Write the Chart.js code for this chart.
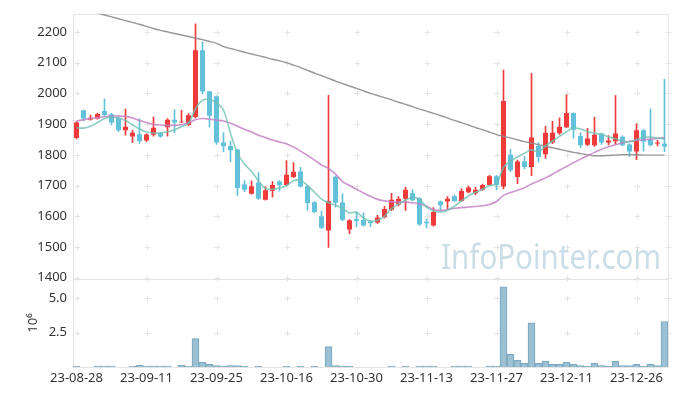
<!DOCTYPE html>
<html>
<head>
<meta charset="utf-8">
<script src="https://cdn.jsdelivr.net/npm/chart.js@4.4.0/dist/chart.umd.min.js"></script>
<style>
  html, body { margin: 0; padding: 0; background: #fff; }
</style>
</head>
<body>
<canvas id="stockChart" width="677" height="396"></canvas>
<script>
'use strict';

// ***** DATA *****
const dates = [
  '23-08-28', '23-08-29', '23-08-30', '23-08-31', '23-09-01', '23-09-04', '23-09-05', '23-09-06', '23-09-07', '23-09-08',
  '23-09-11', '23-09-12', '23-09-13', '23-09-14', '23-09-15', '23-09-18', '23-09-19', '23-09-20', '23-09-21', '23-09-22',
  '23-09-25', '23-09-26', '23-09-27', '23-10-04', '23-10-05', '23-10-06', '23-10-10', '23-10-11', '23-10-12', '23-10-13',
  '23-10-16', '23-10-17', '23-10-18', '23-10-19', '23-10-20', '23-10-23', '23-10-24', '23-10-25', '23-10-26', '23-10-27',
  '23-10-30', '23-10-31', '23-11-01', '23-11-02', '23-11-03', '23-11-06', '23-11-07', '23-11-08', '23-11-09', '23-11-10',
  '23-11-13', '23-11-14', '23-11-15', '23-11-16', '23-11-17', '23-11-20', '23-11-21', '23-11-22', '23-11-23', '23-11-24',
  '23-11-27', '23-11-28', '23-11-29', '23-11-30', '23-12-01', '23-12-04', '23-12-05', '23-12-06', '23-12-07', '23-12-08',
  '23-12-11', '23-12-12', '23-12-13', '23-12-14', '23-12-15', '23-12-18', '23-12-19', '23-12-20', '23-12-21', '23-12-22',
  '23-12-26', '23-12-27', '23-12-28', '24-01-02', '24-01-03'
];

const openPrices = [
  1855, 1945, 1915, 1918, 1943, 1932, 1920, 1880, 1860, 1867,
  1847, 1865, 1870, 1890, 1914, 1906, 1897, 1923, 2140, 2007,
  1991, 1840, 1829, 1817, 1703, 1673, 1710, 1654, 1683, 1713,
  1702, 1728, 1746, 1698, 1646, 1600, 1554, 1729, 1645, 1557,
  1590, 1588, 1584, 1580, 1597, 1621, 1638, 1657, 1675, 1659,
  1582, 1570, 1648, 1648, 1665, 1650, 1678, 1675, 1686, 1702,
  1730, 1697, 1800, 1728, 1778, 1760, 1829, 1802, 1840, 1870,
  1890, 1936, 1861, 1833, 1831, 1869, 1840, 1844, 1859, 1834,
  1811, 1880, 1849, 1837, 1836
];
const highPrices = [
  1908, 1946, 1929, 1936, 1982, 1935, 1922, 1949, 1880, 1917,
  1868, 1923, 1872, 1918, 1947, 1945, 1934, 2226, 2168, 2007,
  1992, 1872, 1845, 1817, 1716, 1715, 1742, 1697, 1713, 1716,
  1781, 1775, 1759, 1700, 1648, 1617, 1994, 1731, 1673, 1589,
  1614, 1611, 1586, 1603, 1632, 1675, 1664, 1695, 1687, 1661,
  1592, 1628, 1650, 1664, 1670, 1689, 1699, 1694, 1705, 1733,
  1733, 2076, 1818, 1783, 1795, 2065, 1840, 1893, 1909, 1920,
  1995, 1937, 1872, 1886, 1922, 1871, 1863, 1993, 1862, 1836,
  1901, 1882, 1949, 1847, 2046
];
const lowPrices = [
  1852, 1910, 1913, 1916, 1925, 1897, 1875, 1864, 1840, 1837,
  1843, 1861, 1857, 1861, 1872, 1905, 1895, 1920, 1998, 1890,
  1834, 1810, 1778, 1668, 1680, 1672, 1655, 1652, 1662, 1682,
  1700, 1726, 1695, 1619, 1612, 1560, 1499, 1630, 1585, 1543,
  1566, 1568, 1566, 1577, 1595, 1618, 1634, 1619, 1650, 1570,
  1562, 1568, 1617, 1625, 1648, 1648, 1676, 1670, 1684, 1700,
  1686, 1689, 1745, 1706, 1754, 1732, 1776, 1788, 1836, 1866,
  1888, 1853, 1823, 1830, 1827, 1834, 1832, 1834, 1829, 1794,
  1784, 1812, 1829, 1829, 1810
];
const closePrices = [
  1905, 1918, 1921, 1933, 1930, 1905, 1880, 1891, 1872, 1845,
  1866, 1888, 1860, 1914, 1905, 1908, 1929, 2140, 2006, 1927,
  1840, 1828, 1815, 1692, 1686, 1698, 1657, 1685, 1702, 1701,
  1735, 1745, 1697, 1643, 1614, 1563, 1649, 1644, 1589, 1587,
  1585, 1570, 1578, 1596, 1624, 1654, 1657, 1686, 1652, 1573,
  1577, 1614, 1636, 1657, 1650, 1682, 1694, 1686, 1702, 1730,
  1702, 1975, 1750, 1778, 1760, 1856, 1793, 1872, 1872, 1891,
  1936, 1882, 1831, 1853, 1865, 1840, 1847, 1869, 1831, 1811,
  1880, 1843, 1831, 1840, 1827
];

// moving averages
const ma5 = [
  1888, 1887, 1893, 1905, 1918, 1923, 1920, 1912, 1898, 1884,
  1874, 1871, 1872, 1875, 1882, 1892, 1903, 1950, 1978, 1980,
  1969, 1945, 1870, 1805, 1770, 1746, 1715, 1690, 1688, 1692,
  1700, 1716, 1717, 1700, 1678, 1656, 1644, 1636, 1626, 1611,
  1613, 1595, 1584, 1587, 1600, 1625, 1640, 1652, 1662, 1655,
  1630, 1618, 1614, 1619, 1633, 1650, 1666, 1678, 1688, 1700,
  1705, 1759, 1780, 1793, 1805, 1816, 1810, 1829, 1845, 1860,
  1875, 1888, 1884, 1876, 1870, 1866, 1859, 1852, 1844, 1842,
  1850, 1857, 1858, 1855, 1852
];
const ma20 = [
  1910, 1914, 1918, 1921, 1924, 1926, 1926, 1925, 1920, 1912,
  1905, 1899, 1897, 1896, 1896, 1898, 1904, 1914, 1918, 1916,
  1913, 1910, 1903, 1893, 1883, 1874, 1864, 1856, 1848, 1842,
  1836, 1825, 1812, 1798, 1783, 1767, 1756, 1737, 1713, 1700,
  1688, 1676, 1665, 1655, 1650, 1647, 1646, 1646, 1644, 1640,
  1633, 1622, 1619, 1622, 1626, 1628, 1630, 1632, 1634, 1638,
  1648, 1668, 1677, 1685, 1693, 1705, 1715, 1725, 1737, 1750,
  1762, 1774, 1786, 1797, 1808, 1818, 1826, 1833, 1839, 1844,
  1847, 1849, 1851, 1853, 1856
];
const ma120 = [
  2290, 2280, 2271, 2262, 2255, 2249, 2243, 2237, 2231, 2225,
  2218, 2211, 2205, 2200, 2195, 2190, 2185, 2180, 2175, 2169,
  2163, 2152, 2146, 2140, 2134, 2128, 2123, 2117, 2111, 2106,
  2100, 2092, 2084, 2075, 2066, 2058, 2049, 2040, 2032, 2024,
  2016, 2008, 2000, 1993, 1986, 1979, 1971, 1964, 1957, 1949,
  1942, 1935, 1928, 1920, 1912, 1905, 1897, 1889, 1882, 1874,
  1866, 1860, 1855, 1849, 1843, 1838, 1833, 1828, 1823, 1818,
  1813, 1808, 1804, 1800, 1797, 1797, 1798, 1799, 1800, 1800,
  1800, 1799, 1799, 1799, 1799
];

// volume in millions of shares
const volumes = [
  0.07, 0, 0, 0.07, 0.07, 0.07, 0, 0, 0.07, 0.14,
  0.07, 0.07, 0.07, 0.07, 0, 0.14, 0.05, 2.07, 0.35, 0.19,
  0.11, 0.05, 0.11, 0.11, 0.05, 0, 0.05, 0, 0, 0,
  0.05, 0, 0.05, 0, 0.05, 0, 1.49, 0.11, 0.06, 0.06,
  0, 0, 0, 0, 0, 0.07, 0, 0.07, 0, 0.07,
  0.07, 0.07, 0, 0, 0.07, 0.07, 0.07, 0, 0, 0.07,
  0.07, 5.85, 0.93, 0.50, 0.26, 3.22, 0.26, 0.43, 0.19, 0.19,
  0.35, 0.19, 0.11, 0.05, 0.26, 0.11, 0.05, 0.43, 0.11, 0.11,
  0.19, 0.05, 0.19, 0.11, 3.32
];

const priceTicks = [1400, 1500, 1600, 1700, 1800, 1900, 2000, 2100, 2200];
const volumeTicks = [2.5, 5.0];
const labelEvery = 10;

// ***** COLORS *****
const upColor = '#ef3b3b';
const downColor = '#64c1da';
const gridColor = '#e4e4e4';
const tickFont = { family: 'Noto Sans', size: 13 };

// **** HELPERS ****
const bodies = [];
const wicks = [];
const candleColors = [];
for (let i = 0; i < dates.length; i++) {
  bodies.push([openPrices[i], closePrices[i]]);
  wicks.push([lowPrices[i], highPrices[i]]);
  candleColors.push(closePrices[i] >= openPrices[i] ? upColor : downColor);
}

function crisp(v) {
  return Math.round(v) + 0.5;
}

// light borders and "+" marks where grid lines would cross
const gridCrosses = {
  id: 'gridCrosses',
  beforeDatasetsDraw(chart) {
    const { ctx, chartArea, scales } = chart;
    const xs = [];
    for (let i = 0; i < dates.length; i += labelEvery) {
      xs.push(scales.x.getPixelForValue(i));
    }
    xs.push(chartArea.right);

    ctx.save();
    ctx.strokeStyle = gridColor;
    ctx.lineWidth = 1;
    ctx.beginPath();
    ctx.moveTo(crisp(chartArea.left), crisp(chartArea.bottom));
    ctx.lineTo(crisp(chartArea.left), crisp(chartArea.top));
    ctx.lineTo(crisp(chartArea.right), crisp(chartArea.top));
    ctx.lineTo(crisp(chartArea.right), crisp(chartArea.bottom));
    ctx.lineTo(crisp(chartArea.left), crisp(chartArea.bottom));
    ctx.moveTo(crisp(chartArea.left), crisp(scales.y.bottom));
    ctx.lineTo(crisp(chartArea.right), crisp(scales.y.bottom));
    ctx.stroke();

    const ys = priceTicks.map(v => scales.y.getPixelForValue(v))
      .concat(volumeTicks.map(v => scales.yVol.getPixelForValue(v)));
    ctx.beginPath();
    for (const x of xs) {
      for (const y of ys) {
        const cx = crisp(x);
        const cy = crisp(y);
        ctx.moveTo(cx - 3, cy);
        ctx.lineTo(cx + 3, cy);
        ctx.moveTo(cx, cy - 3);
        ctx.lineTo(cx, cy + 3);
      }
    }
    ctx.stroke();
    ctx.restore();
  }
};

const watermark = {
  id: 'watermark',
  beforeDatasetsDraw(chart) {
    const { ctx, scales } = chart;
    const text = 'InfoPointer.com';
    ctx.save();
    ctx.font = '34px "Noto Sans"';
    ctx.fillStyle = 'rgba(160, 195, 212, 0.55)';
    ctx.textBaseline = 'alphabetic';
    const w = ctx.measureText(text).width;
    const targetW = 220;
    const right = scales.x.right - 7;
    ctx.translate(right - targetW, scales.y.bottom - 10);
    ctx.scale(targetW / w, 1);
    ctx.fillText(text, 0, 0);
    ctx.restore();
  }
};

// **** CHART ****
let ctx = document.getElementById('stockChart').getContext('2d');

let chartObject = {
  type: 'bar',
  data: {
    labels: dates,
    datasets: [
      {
        type: 'line',
        label: 'MA5',
        data: ma5,
        yAxisID: 'y',
        borderColor: 'rgba(110, 192, 178, 0.8)',
        borderWidth: 1.6,
        pointRadius: 0,
        tension: 0.3,
        order: 1
      },
      {
        type: 'line',
        label: 'MA20',
        data: ma20,
        yAxisID: 'y',
        borderColor: 'rgba(196, 128, 196, 0.85)',
        borderWidth: 1.6,
        pointRadius: 0,
        tension: 0.3,
        order: 1
      },
      {
        type: 'line',
        label: 'MA120',
        data: ma120,
        yAxisID: 'y',
        borderColor: 'rgba(140, 140, 140, 0.9)',
        borderWidth: 1.4,
        pointRadius: 0,
        tension: 0.2,
        order: 1
      },
      {
        label: 'wick',
        data: wicks,
        yAxisID: 'y',
        backgroundColor: candleColors,
        barThickness: 1,
        grouped: false,
        order: 2
      },
      {
        label: 'body',
        data: bodies,
        yAxisID: 'y',
        backgroundColor: candleColors,
        barPercentage: 0.72,
        categoryPercentage: 1,
        grouped: false,
        order: 2
      },
      {
        label: 'volume',
        data: volumes,
        yAxisID: 'yVol',
        backgroundColor: 'rgba(150, 190, 208, 0.95)',
        borderColor: '#7aa7bf',
        borderWidth: 1,
        barPercentage: 1,
        categoryPercentage: 1,
        grouped: false,
        order: 3
      }
    ]
  },
  options: {
    responsive: false,
    animation: false,
    devicePixelRatio: 1,
    layout: { padding: { top: 10, right: 9, left: 0, bottom: 0 } },
    plugins: {
      legend: { display: false },
      tooltip: { enabled: false }
    },
    scales: {
      x: {
        offset: true,
        grid: { display: false, drawTicks: false },
        border: { display: false },
        ticks: {
          autoSkip: false,
          maxRotation: 0,
          minRotation: 0,
          padding: 3,
          color: '#333',
          font: tickFont,
          callback: (value, index) => (index % labelEvery === 0 ? dates[index] : '')
        },
        afterFit: scale => { scale.height = 29; }
      },
      // volume panel is defined first so the stack puts it under the price panel
      yVol: {
        position: 'left',
        stack: 'panels',
        stackWeight: 89,
        min: 0,
        max: 6.42,
        grid: { display: false, drawTicks: false },
        border: { display: false },
        ticks: {
          autoSkip: false,
          padding: 6,
          color: '#333',
          font: tickFont,
          callback: value => value.toFixed(1)
        },
        title: {
          display: true,
          text: '10⁶',
          color: '#333',
          font: tickFont,
          padding: { top: 25, bottom: 0 }
        },
        afterBuildTicks: scale => { scale.ticks = volumeTicks.map(v => ({ value: v })); },
        afterFit: scale => { scale.width = 73; }
      },
      y: {
        position: 'left',
        stack: 'panels',
        stackWeight: 268,
        min: 1396,
        max: 2259,
        grid: { display: false, drawTicks: false },
        border: { display: false },
        ticks: {
          autoSkip: false,
          padding: 6,
          color: '#333',
          font: tickFont,
          callback: value => String(value)
        },
        afterBuildTicks: scale => { scale.ticks = priceTicks.map(v => ({ value: v })); },
        afterFit: scale => { scale.width = 73; }
      }
    }
  },
  plugins: [gridCrosses, watermark]
};

new Chart(ctx, chartObject);
</script>
</body>
</html>
